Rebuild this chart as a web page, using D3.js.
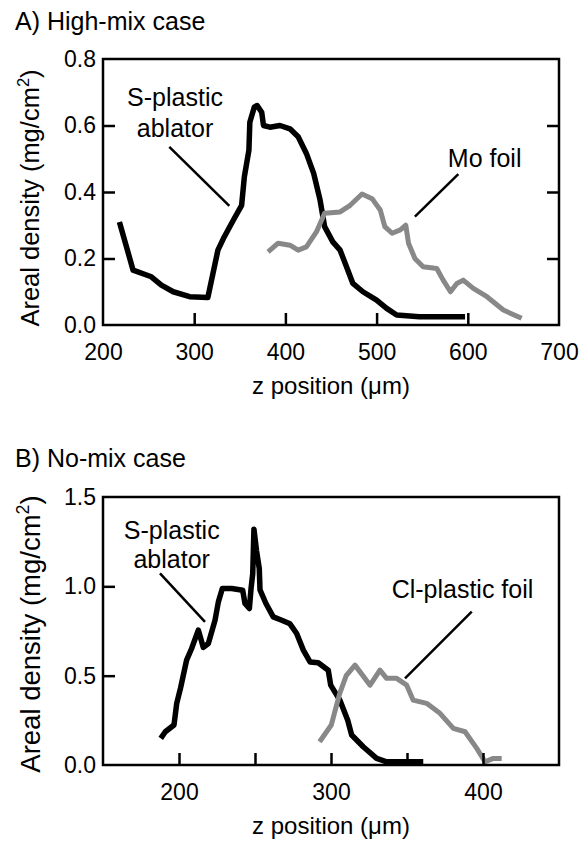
<!DOCTYPE html>
<html>
<head>
<meta charset="utf-8">
<script src="https://cdn.jsdelivr.net/npm/d3@7"></script>
<style>
  html, body { margin: 0; padding: 0; background: #fff; }
  text { font-family: "Liberation Sans", Arial, Helvetica, sans-serif; fill: #000; }
</style>
</head>
<body>
<svg id="chart" width="581" height="841"></svg>
<script>
// ---------- Panel A: High-mix case ----------
const aAblatorX = [218,233,253,264,277,295,315,326,332,343,352,355,360,361,366,369,374,376,383,394,405,414,423,431,438,443,452,460,467,474,485,500,511,522,547,597];
const aAblatorY = [0.31,0.165,0.145,0.12,0.10,0.085,0.083,0.225,0.26,0.316,0.36,0.446,0.526,0.61,0.656,0.66,0.64,0.60,0.595,0.60,0.59,0.566,0.516,0.456,0.376,0.296,0.25,0.225,0.175,0.125,0.10,0.075,0.05,0.03,0.025,0.025];
const aFoilX = [381,392,405,414,423,434,443,460,471,484,495,504,509,517,526,532,535,542,551,566,573,581,588,595,606,621,639,659];
const aFoilY = [0.22,0.246,0.24,0.225,0.235,0.28,0.336,0.34,0.36,0.394,0.38,0.346,0.296,0.276,0.286,0.30,0.246,0.20,0.175,0.17,0.135,0.10,0.125,0.135,0.11,0.085,0.045,0.02];
const aXTicks = [200,300,400,500,600,700];
const aYTicks = [0.0,0.2,0.4,0.6,0.8];

// ---------- Panel B: No-mix case ----------
const bAblatorX = [188,191,196.7,198.5,201,205,208.3,212.7,216,219.3,223.7,225.9,228.5,234.7,241.9,243.4,246.3,247.4,248.5,249.3,251,252.8,253.3,257.2,262,267.6,273,277.4,281.8,286.2,291.6,298.2,299.8,306,311,313.6,321.2,330,336.6,360.7];
const bAblatorY = [0.149,0.186,0.224,0.345,0.43,0.587,0.652,0.755,0.658,0.68,0.81,0.913,0.988,0.988,0.978,0.904,0.876,0.988,1.07,1.32,1.2,1.1,0.98,0.904,0.829,0.81,0.79,0.736,0.643,0.577,0.572,0.53,0.447,0.36,0.25,0.168,0.102,0.037,0.018,0.018];
const bFoilX = [292.5,300.2,305.7,310,315.8,325.7,332.2,336.6,343.2,349.8,354.1,362.9,371.7,380.5,388.2,395.9,401.3,406.8,412.3];
const bFoilY = [0.13,0.224,0.40,0.50,0.559,0.447,0.531,0.485,0.485,0.447,0.363,0.345,0.289,0.205,0.186,0.093,0.018,0.037,0.037];
const bXTicks = [200,300,400];
const bXMinor = [250,350];
const bYTicks = [0.0,0.5,1.0,1.5];

const svg = d3.select("#chart");

function panel(cfg) {
  const g = svg.append("g");
  const x = d3.scaleLinear().domain(cfg.xDomain).range([cfg.left, cfg.right]);
  const y = d3.scaleLinear().domain(cfg.yDomain).range([cfg.bottom, cfg.top]);
  const tickLen = 12;

  // title
  g.append("text").attr("x", 15).attr("y", cfg.titleY)
    .attr("font-size", 25).text(cfg.title);

  // data lines
  const line = d3.line().x(d => x(d[0])).y(d => y(d[1]));
  cfg.series.forEach(s => {
    const pts = s.x.map((v, i) => [v, s.y[i]]);
    g.append("path").datum(pts).attr("d", line)
      .attr("fill", "none").attr("stroke", s.color)
      .attr("stroke-width", s.width).attr("stroke-linejoin", "round");
  });

  // bottom axis (inward ticks)
  const xAxis = d3.axisBottom(x).tickValues(cfg.xTicks).tickSize(-tickLen).tickPadding(tickLen + 7)
    .tickFormat(d3.format("d"));
  const gx = g.append("g").attr("transform", `translate(0,${cfg.bottom})`).call(xAxis);
  gx.select(".domain").remove();
  gx.selectAll(".tick line").attr("stroke", "#000").attr("stroke-width", 2.5)
    .filter(d => d === cfg.xDomain[0] || d === cfg.xDomain[1]).remove();
  gx.selectAll(".tick text").attr("font-size", 23).attr("font-family", "Liberation Sans, Arial, sans-serif").attr("fill", "#000");
  if (cfg.xMinor) {
    const xm = d3.axisBottom(x).tickValues(cfg.xMinor).tickSize(-tickLen).tickFormat("");
    const gm = g.append("g").attr("transform", `translate(0,${cfg.bottom})`).call(xm);
    gm.select(".domain").remove();
    gm.selectAll(".tick line").attr("stroke", "#000").attr("stroke-width", 2.5);
  }

  // left axis
  const yAxis = d3.axisLeft(y).tickValues(cfg.yTicks).tickSize(-tickLen).tickPadding(7)
    .tickFormat(d3.format(".1f"));
  const gy = g.append("g").attr("transform", `translate(${cfg.left},0)`).call(yAxis);
  gy.select(".domain").remove();
  gy.selectAll(".tick line").attr("stroke", "#000").attr("stroke-width", 2.5)
    .filter(d => d === cfg.yDomain[0] || d === cfg.yDomain[1]).remove();
  gy.selectAll(".tick text").attr("font-size", 23).attr("font-family", "Liberation Sans, Arial, sans-serif").attr("fill", "#000");

  // right axis ticks
  if (cfg.rightTicks) {
    const yr = d3.axisRight(y).tickValues(cfg.yTicks.filter(d => d !== cfg.yDomain[0] && d !== cfg.yDomain[1]))
      .tickSize(-tickLen).tickFormat("");
    const gr = g.append("g").attr("transform", `translate(${cfg.right},0)`).call(yr);
    gr.select(".domain").remove();
    gr.selectAll(".tick line").attr("stroke", "#000").attr("stroke-width", 2.5);
  }

  // frame
  g.append("rect").attr("x", cfg.left).attr("y", cfg.top)
    .attr("width", cfg.right - cfg.left).attr("height", cfg.bottom - cfg.top)
    .attr("fill", "none").attr("stroke", "#000").attr("stroke-width", 2.5);

  // x label
  g.append("text").attr("x", (cfg.left + cfg.right) / 2).attr("y", cfg.bottom + 69)
    .attr("text-anchor", "middle").attr("font-size", 24).text("z position (μm)");

  // y label
  const yl = g.append("text")
    .attr("transform", `translate(${cfg.yLabelX},${cfg.yLabelY}) rotate(-90)`)
    .attr("text-anchor", "middle").attr("font-size", cfg.yLabelSize);
  yl.append("tspan").text("Areal density (mg/cm");
  yl.append("tspan").attr("font-size", cfg.yLabelSize * 0.65).attr("dy", -cfg.yLabelSize * 0.4).text("2");
  yl.append("tspan").attr("dy", cfg.yLabelSize * 0.4).text(")");

  // annotations
  cfg.notes.forEach(n => {
    n.lines.forEach((t, i) => {
      g.append("text").attr("x", x(n.x)).attr("y", y(n.y[i]))
        .attr("text-anchor", "middle").attr("font-size", 25).text(t);
    });
    g.append("line")
      .attr("x1", x(n.leader[0])).attr("y1", y(n.leader[1]))
      .attr("x2", x(n.leader[2])).attr("y2", y(n.leader[3]))
      .attr("stroke", "#000").attr("stroke-width", 2.5);
  });
}

panel({
  title: "A) High-mix case", titleY: 30,
  left: 103, right: 559, top: 59, bottom: 325,
  xDomain: [200, 700], yDomain: [0, 0.8],
  xTicks: aXTicks, yTicks: aYTicks, rightTicks: true,
  yLabelX: 39, yLabelY: 198, yLabelSize: 25.5,
  series: [
    { x: aAblatorX, y: aAblatorY, color: "#000", width: 5.5 },
    { x: aFoilX, y: aFoilY, color: "#888", width: 5 }
  ],
  notes: [
    { lines: ["S-plastic", "ablator"], x: 279, y: [0.658, 0.565], leader: [272.7, 0.536, 338.5, 0.358] },
    { lines: ["Mo foil"], x: 618.5, y: [0.476], leader: [589.6, 0.454, 542, 0.326] }
  ]
});

panel({
  title: "B) No-mix case", titleY: 467,
  left: 103, right: 559, top: 497, bottom: 765,
  xDomain: [150, 450], yDomain: [0, 1.5],
  xTicks: bXTicks, xMinor: bXMinor, yTicks: bYTicks, rightTicks: false,
  yLabelX: 40, yLabelY: 634, yLabelSize: 27.5,
  series: [
    { x: bAblatorX, y: bAblatorY, color: "#000", width: 5.5 },
    { x: bFoilX, y: bFoilY, color: "#888", width: 5 }
  ],
  notes: [
    { lines: ["S-plastic", "ablator"], x: 195.2, y: [1.267, 1.10], leader: [187.5, 1.072, 217.1, 0.801] },
    { lines: ["Cl-plastic foil"], x: 386.5, y: [0.932], leader: [392.6, 0.858, 348.7, 0.485] }
  ]
});
</script>
</body>
</html>
